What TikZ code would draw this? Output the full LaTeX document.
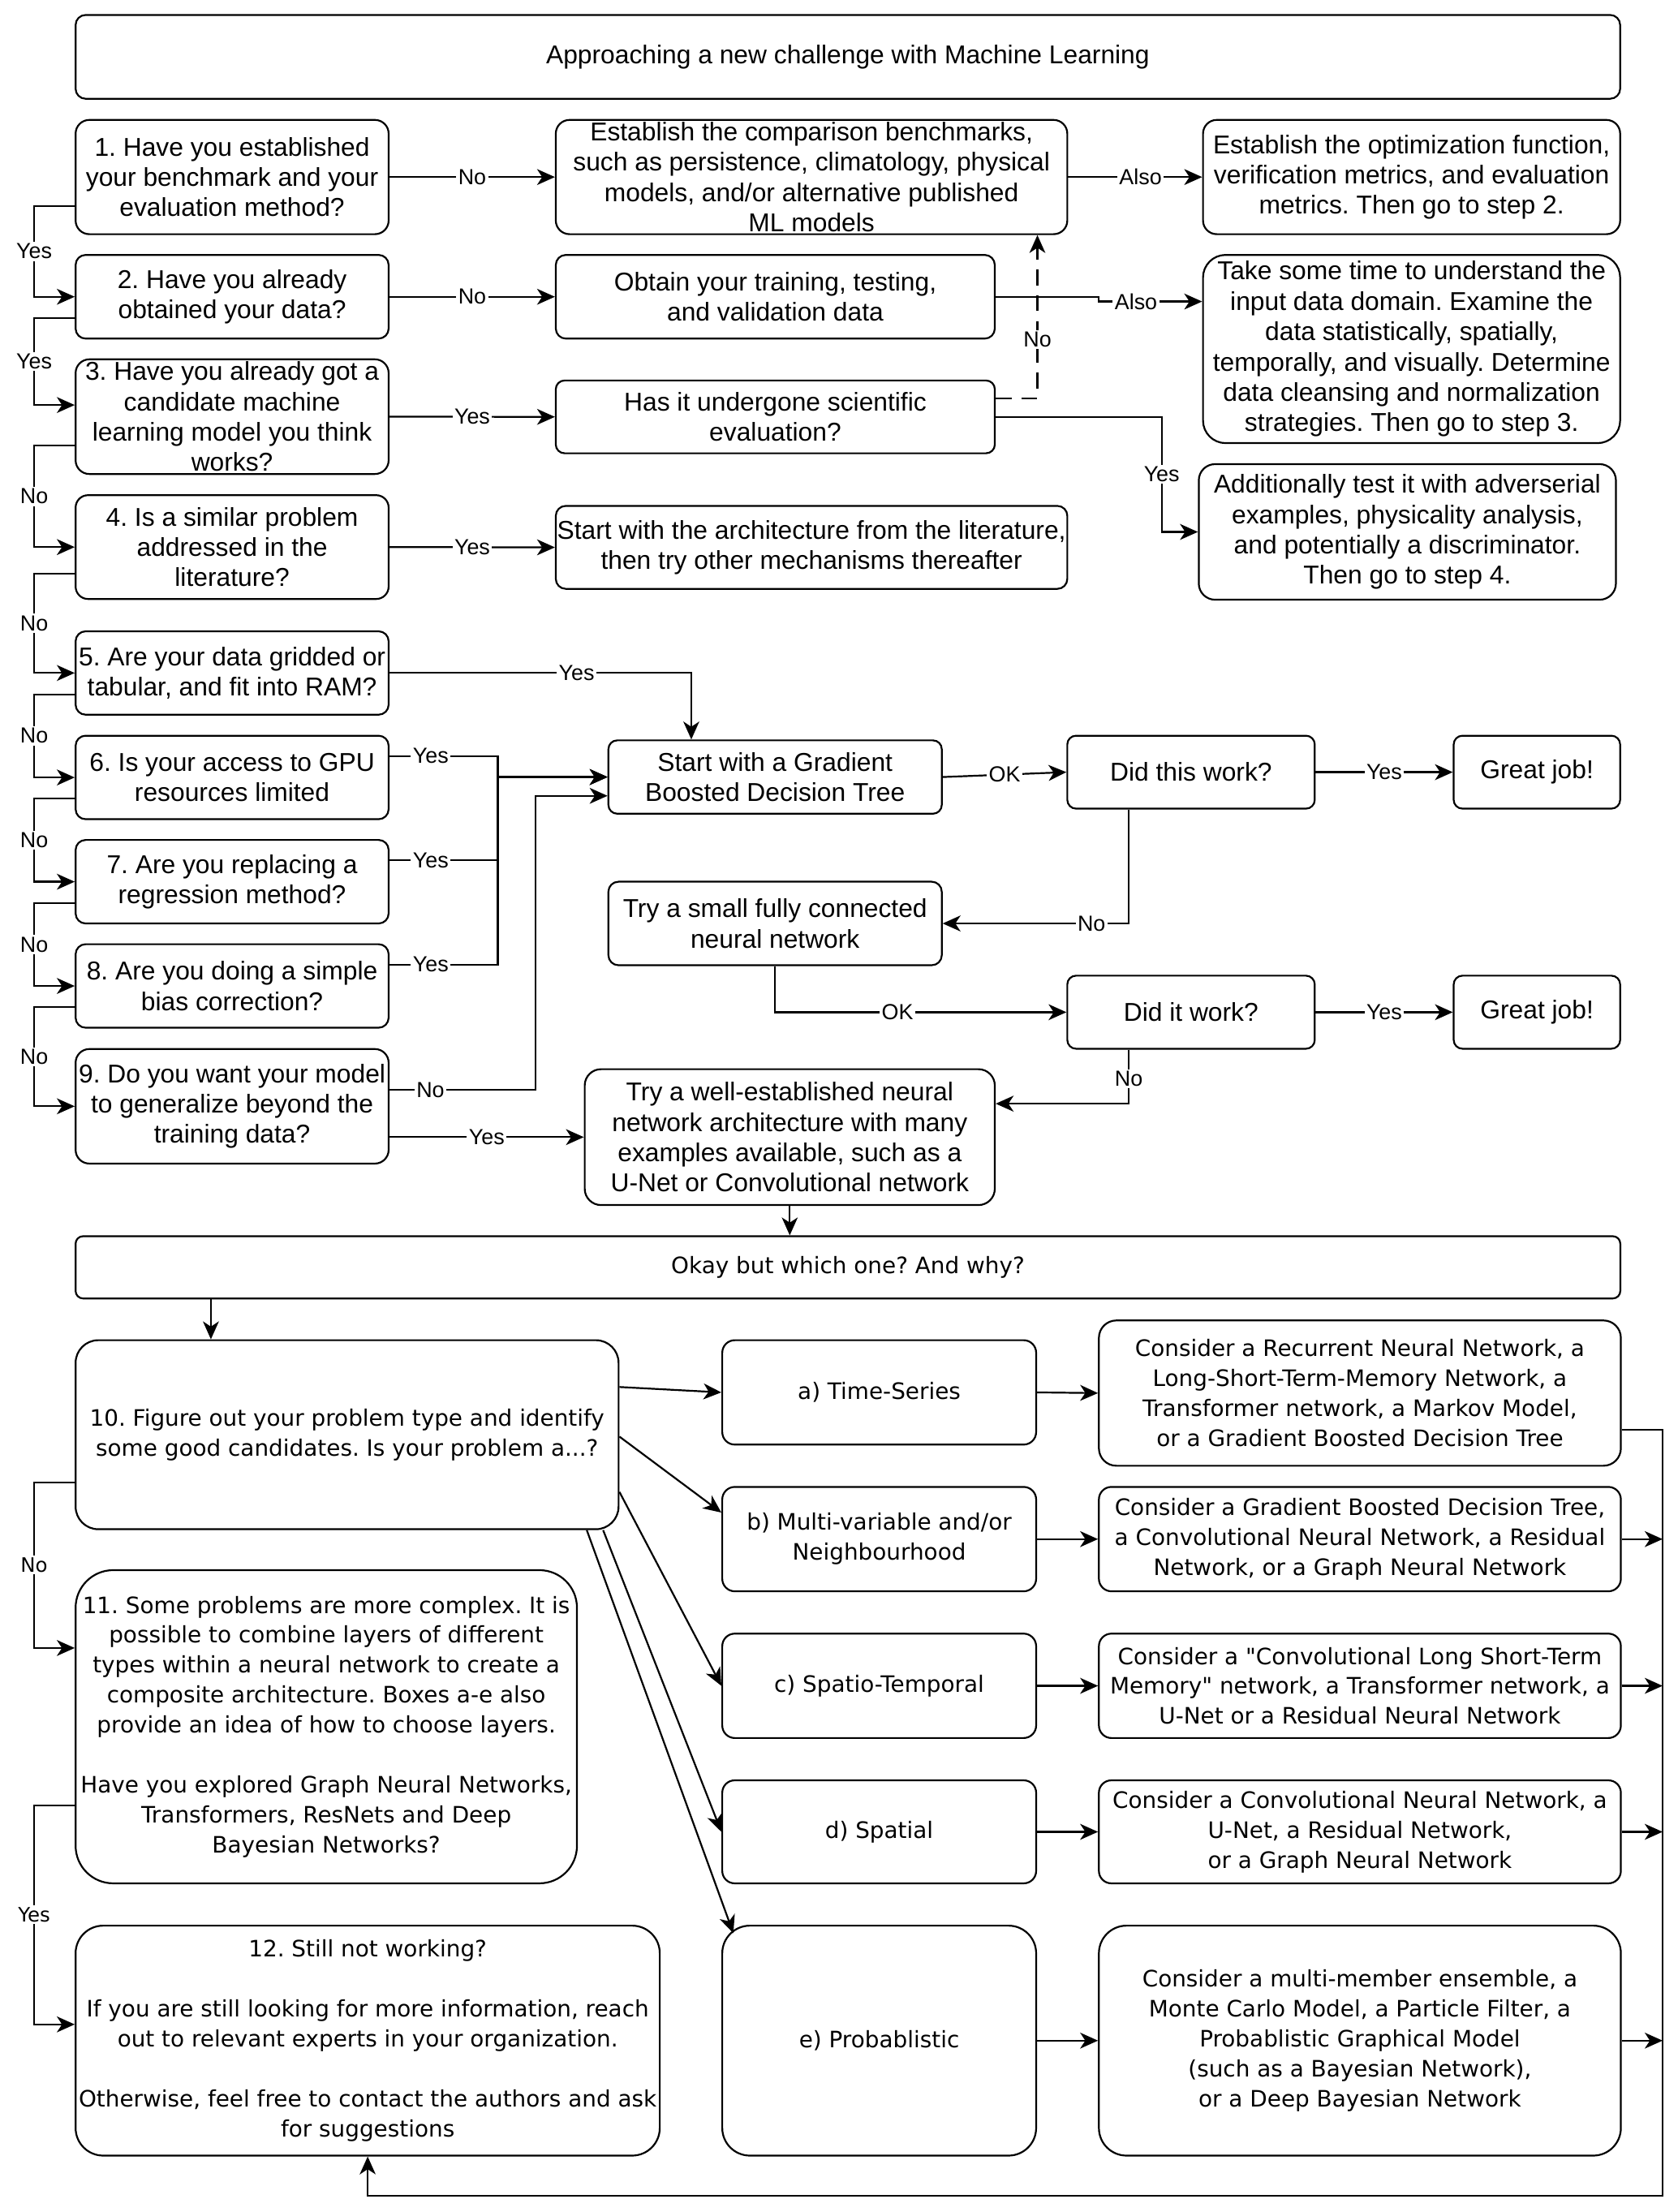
\documentclass[tikz,border=0pt]{standalone}
\usepackage{fontspec}
\setmainfont{Liberation Sans}
\newfontfamily\dvs{DejaVu Sans}
\usetikzlibrary{arrows.meta,calc}
\frenchspacing
\newcommand\pxu{0.7113185}
% name x1 y1 x2 y2 textstyle text
\newcommand\bx[7]{%
  \pgfmathsetmacro\bw{#4-#2}\pgfmathsetmacro\bh{#5-#3}%
  \pgfmathsetmacro\br{0.12*min(\bw,\bh)*\pxu}%
  \pgfmathsetmacro\bw{\bw*\pxu}\pgfmathsetmacro\bh{\bh*\pxu}%
  \node[box,minimum width=\bw pt,minimum height=\bh pt,rounded corners=\br pt] (#1) at ({(#2+#4)/2},{(#3+#5)/2}) {};
  \node[#6] at (#1.center) {#7};}
\tikzset{
  box/.style={draw,line width=0.9pt,inner sep=0pt},
  tt/.style={align=center,inner sep=0pt,font=\frenchspacing\fontsize{13}{15.3}\selectfont},
  bt/.style={align=center,inner sep=0pt,font=\frenchspacing\dvs\fontsize{11.4}{15.1}\selectfont},
  lbl/.style={fill=white,inner sep=1pt,font=\fontsize{11}{13}\selectfont},
  lbb/.style={fill=white,inner sep=1pt,font=\dvs\fontsize{10}{12}\selectfont},
  ar/.style={line width=0.9pt,-{Stealth[length=9pt,width=8pt,inset=2.6pt]}},
}
\begin{document}
\begin{tikzpicture}[x=0.25mm,y=-0.25mm]
\useasboundingbox (0,0) rectangle (1189,1568);
% ---------- boxes ----------
\bx{title}{53.6}{10.6}{1148.5}{70}{tt}{Approaching a new challenge with Machine Learning}
\bx{b1}{53.6}{85}{275.5}{166}{tt}{1. Have you established\\your benchmark and your\\evaluation method?}
\bx{bench}{394}{85}{756.6}{166}{tt}{Establish the comparison benchmarks,\\such as persistence, climatology, physical\\models, and/or alternative published\\ML models}
\bx{opt}{852.8}{85}{1148.5}{166}{tt}{Establish the optimization function,\\verification metrics, and evaluation\\metrics. Then go to step 2.}
\bx{b2}{53.6}{180.7}{275.5}{240}{tt}{2. Have you already\\obtained your data?}
\bx{obt}{394}{180.7}{705.2}{240}{tt}{Obtain your training, testing,\\and validation data}
\bx{take}{852.8}{180.7}{1148.5}{314.1}{tt}{Take some time to understand the\\input data domain. Examine the\\data statistically, spatially,\\temporally, and visually. Determine\\data cleansing and normalization\\strategies. Then go to step 3.}
\bx{b3}{53.6}{254.7}{275.5}{336}{tt}{3. Have you already got a\\candidate machine\\learning model you think\\works?}
\bx{has}{394}{269.7}{705.2}{321.3}{tt}{Has it undergone scientific\\evaluation?}
\bx{b4}{53.6}{351}{275.5}{424.6}{tt}{4. Is a similar problem\\addressed in the\\literature?}
\bx{lit}{394}{358.6}{756.6}{417.4}{tt}{Start with the architecture from the literature,\\then try other mechanisms thereafter}
\bx{add}{849.8}{329}{1145.5}{425.1}{tt}{Additionally test it with adverserial\\examples, physicality analysis,\\and potentially a discriminator.\\Then go to step 4.}
\bx{b5}{53.6}{447.5}{275.5}{506.6}{tt}{5. Are your data gridded or\\tabular, and fit into RAM?}
\bx{b6}{53.6}{521.5}{275.5}{580.7}{tt}{6. Is your access to GPU\\resources limited}
\bx{b7}{53.6}{595.4}{275.5}{654.6}{tt}{7. Are you replacing a\\regression method?}
\bx{b8}{53.6}{669.3}{275.5}{728.5}{tt}{8. Are you doing a simple\\bias correction?}
\bx{b9}{53.6}{743.6}{275.5}{824.8}{tt}{9. Do you want your model\\to generalize beyond the\\training data?}
\bx{gbdt}{431.3}{524.8}{667.6}{576.8}{tt}{Start with a Gradient\\Boosted Decision Tree}
\bx{dtw}{756.6}{521.5}{932}{573.2}{tt}{Did this work?}
\bx{gj1}{1030.5}{521.5}{1148.5}{573.2}{tt}{Great job!}
\bx{tsm}{431.3}{625}{667.6}{684.2}{tt}{Try a small fully connected\\neural network}
\bx{diw}{756.6}{691.6}{932}{743.4}{tt}{Did it work?}
\bx{gj2}{1030.5}{691.6}{1148.5}{743.4}{tt}{Great job!}
\bx{tw}{414.5}{757.9}{705.2}{854.2}{tt}{Try a well-established neural\\network architecture with many\\examples available, such as a\\U-Net or Convolutional network}
\bx{okay}{53.6}{876.3}{1148.6}{920.4}{bt}{Okay but which one? And why?}
\bx{b10}{53.6}{950}{438.5}{1084}{bt}{10. Figure out your problem type and identify\\some good candidates. Is your problem a...?}
\bx{ta}{512}{950}{734.5}{1024}{bt}{a) Time-Series}
\bx{tb}{512}{1054}{734.5}{1128}{bt}{b) Multi-variable and/or\\Neighbourhood}
\bx{tc}{512}{1158}{734.5}{1232}{bt}{c) Spatio-Temporal}
\bx{td}{512}{1262}{734.5}{1335}{bt}{d) Spatial}
\bx{te}{512}{1365}{734.5}{1528}{bt}{e) Probablistic}
\bx{ca}{779}{936}{1149}{1039}{bt}{Consider a Recurrent Neural Network, a\\Long-Short-Term-Memory Network, a\\Transformer network, a Markov Model,\\or a Gradient Boosted Decision Tree}
\bx{cb}{779}{1054}{1149}{1128}{bt}{Consider a Gradient Boosted Decision Tree,\\a Convolutional Neural Network, a Residual\\Network, or a Graph Neural Network}
\bx{cc}{779}{1158}{1149}{1232}{bt}{Consider a "Convolutional Long Short-Term\\Memory" network, a Transformer network, a\\U-Net or a Residual Neural Network}
\bx{cd}{779}{1262}{1149}{1335}{bt}{Consider a Convolutional Neural Network, a\\U-Net, a Residual Network,\\or a Graph Neural Network}
\bx{ce}{779}{1365}{1149}{1528}{bt}{Consider a multi-member ensemble, a\\Monte Carlo Model, a Particle Filter, a\\Probablistic Graphical Model\\(such as a Bayesian Network),\\or a Deep Bayesian Network}
\bx{b11}{53.6}{1113}{409}{1335}{bt}{11. Some problems are more complex. It is\\possible to combine layers of different\\types within a neural network to create a\\composite architecture. Boxes a-e also\\provide an idea of how to choose layers.\\[15.1pt]Have you explored Graph Neural Networks,\\Transformers, ResNets and Deep\\Bayesian Networks?}
\bx{b12}{53.6}{1365}{467.7}{1528}{bt}{12. Still not working?\\[15.1pt]If you are still looking for more information, reach\\out to relevant experts in your organization.\\[15.1pt]Otherwise, feel free to contact the authors and ask\\for suggestions}
% ---------- helper coordinates ----------
\coordinate (lx) at (24.2,0);
\coordinate (jx) at (352.9,0);
\coordinate (jx2) at (379.6,0);
\coordinate (jY) at (823.5,0);
\coordinate (cbr) at (1178.6,1556.6);
\foreach \n in {b1,b2,b3,b4,b5,b6,b7,b8,b10,b11}{
  \coordinate (\n L) at ($(\n.north west)!0.75!(\n.south west)$);}
\coordinate (b3in) at ($(b3.north west)!0.4!(b3.south west)$);
\coordinate (b11in) at ($(b11.north west)!0.25!(b11.south west)$);
\coordinate (b12in) at ($(b12.north west)!0.43!(b12.south west)$);
\coordinate (takeA) at ($(take.north west)!0.25!(take.south west)$);
\coordinate (hasA) at ($(has.north east)!0.25!(has.south east)$);
\coordinate (benchB) at ($(bench.south west)!0.94!(bench.south east)$);
\coordinate (gbT) at ($(gbdt.north west)!0.25!(gbdt.north east)$);
\coordinate (gbL) at ($(gbdt.north west)!0.75!(gbdt.south west)$);
\foreach \n in {b6,b7,b8}{
  \coordinate (\n A) at ($(\n.north east)!0.25!(\n.south east)$);}
\coordinate (b9A) at ($(b9.north east)!0.36!(b9.south east)$);
\coordinate (dtwB) at ($(dtw.south west)!0.25!(dtw.south east)$);
\coordinate (diwB) at ($(diw.south west)!0.25!(diw.south east)$);
\coordinate (twR) at ($(tw.north east)!0.257!(tw.south east)$);
\coordinate (b10T) at ($(b10.north west)!0.25!(b10.north east)$);
\coordinate (b10a) at ($(b10.north east)!0.25!(b10.south east)$);
\coordinate (b10b) at ($(b10.north east)!0.51!(b10.south east)$);
\coordinate (b10c) at ($(b10.north east)!0.8!(b10.south east)$);
\coordinate (b10d) at ($(b10.south west)!0.97!(b10.south east)$);
\coordinate (b10e) at ($(b10.south west)!0.94!(b10.south east)$);
\coordinate (tbA) at ($(tb.north west)!0.25!(tb.south west)$);
\coordinate (teA) at ($(te.north west)+(8.5,6)$);
\coordinate (caA) at ($(ca.north east)!0.75!(ca.south east)$);
% ---------- left chain ----------
\draw[ar] (b1L) -- (b1L -| lx) |- node[lbl,pos=0.25]{Yes} (b2.west);
\draw[ar] (b2L) -- (b2L -| lx) |- node[lbl,pos=0.25]{Yes} (b3in);
\draw[ar] (b3L) -- (b3L -| lx) |- node[lbl,pos=0.25]{No} (b4.west);
\draw[ar] (b4L) -- (b4L -| lx) |- node[lbl,pos=0.25]{No} (b5.west);
\draw[ar] (b5L) -- (b5L -| lx) |- node[lbl,pos=0.25]{No} (b6.west);
\draw[ar] (b6L) -- (b6L -| lx) |- node[lbl,pos=0.25]{No} (b7.west);
\draw[ar] (b7L) -- (b7L -| lx) |- node[lbl,pos=0.25]{No} (b8.west);
\draw[ar] (b8L) -- (b8L -| lx) |- node[lbl,pos=0.25]{No} (b9.west);
\draw[ar] (b10L) -- (b10L -| lx) |- node[lbb,pos=0.25]{No} (b11in);
\draw[ar] (b11L) -- (b11L -| lx) |- node[lbb,pos=0.25]{Yes} (b12in);
% ---------- top section ----------
\draw[ar] (b1.east) -- node[lbl]{No} (bench.west);
\draw[ar] (b2.east) -- node[lbl]{No} (obt.west);
\draw[ar] (b3.east) -- node[lbl]{Yes} (has.west);
\draw[ar] (b4.east) -- node[lbl]{Yes} (lit.west);
\draw[ar] (bench.east) -- node[lbl,pos=0.54]{Also} (opt.west);
\draw[ar] (obt.east) -- ++(73.1,0) |- node[lbl,pos=0.68]{Also} (takeA);
\draw[ar,dash pattern=on 8pt off 5pt] (hasA) -| node[lbl,pos=0.68]{No} (benchB);
\draw[ar] (has.east) -- (has.east -| jY) |- node[lbl,pos=0.25]{Yes} (add.west);
% ---------- middle section ----------
\draw[ar] (b5.east) -| node[lbl,pos=0.31]{Yes} (gbT);
\draw[ar] (b6A) -- node[lbl,pos=0.38]{Yes} (b6A -| jx) |- (gbdt.west);
\draw[ar] (b7A) -- node[lbl,pos=0.38]{Yes} (b7A -| jx) |- (gbdt.west);
\draw[ar] (b8A) -- node[lbl,pos=0.38]{Yes} (b8A -| jx) |- (gbdt.west);
\draw[ar] (b9A) -- node[lbl,pos=0.28]{No} (b9A -| jx2) |- (gbL);
\draw[ar] (b9.east |- tw.west) -- node[lbl]{Yes} (tw.west);
\draw[ar] (gbdt.east) -- node[lbl]{OK} (dtw.west);
\draw[ar] (dtw.east) -- node[lbl]{Yes} (gj1.west);
\draw[ar] (dtwB) |- node[lbl,pos=0.6]{No} (tsm.east);
\draw[ar] (tsm.south) |- node[lbl,pos=0.71]{OK} (diw.west);
\draw[ar] (diw.east) -- node[lbl]{Yes} (gj2.west);
\draw[ar] (diwB) |- node[lbl,pos=0.27]{No} (twR);
\draw[ar] (tw.south) -- (tw.south |- okay.north);
\draw[ar] (okay.south -| b10T) -- (b10T);
% ---------- bottom section ----------
\draw[ar] (b10a) -- (ta.west);
\draw[ar] (b10b) -- (tbA);
\draw[ar] (b10c) -- (tc.west);
\draw[ar] (b10d) -- (td.west);
\draw[ar] (b10e) -- (teA);
\draw[ar] (ta.east) -- (ca.west);
\draw[ar] (tb.east) -- (cb.west);
\draw[ar] (tc.east) -- (cc.west);
\draw[ar] (td.east) -- (cd.west);
\draw[ar] (te.east) -- (ce.west);
\draw[ar] (caA) -| (cbr) -| (b12.south);
\draw[ar] (cb.east) -- (cb.east -| cbr);
\draw[ar] (cc.east) -- (cc.east -| cbr);
\draw[ar] (cd.east) -- (cd.east -| cbr);
\draw[ar] (ce.east) -- (ce.east -| cbr);
\end{tikzpicture}
\end{document}
